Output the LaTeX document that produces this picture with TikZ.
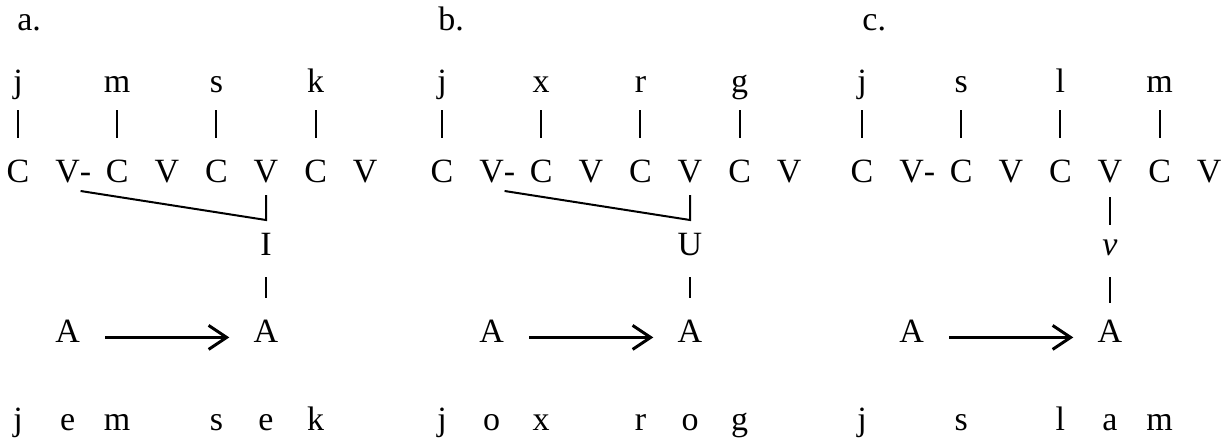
\documentclass[tikz,border=0pt]{standalone}
\usepackage{fontspec}
\setmainfont{Liberation Serif}
\usepackage{tikz}
\usetikzlibrary{arrows.meta}

\begin{document}
\begin{tikzpicture}[
    x=0.5pt, y=-0.5pt,
    seg/.style={inner sep=0pt, text height=11.5pt, text depth=0pt, anchor=base,
                font=\fontsize{17pt}{20pt}\selectfont},
    bar/.style={line width=1pt},
    spread/.style={-{Straight Barb[length=9pt, width=12pt, line width=1.5pt]}, line width=1.5pt}
]
\useasboundingbox (0,0) rectangle (1229,439);

% a. spreading of I
\begin{scope}[shift={(0,0)}]
\node[seg, anchor=base west] (a-lab) at (17,30) {a.};
\foreach \i/\s in {0/j,2/m,4/s,6/k}
  \node[seg] (a-t\i) at (18+49.6*\i,92) {\s};
\foreach \i/\s in {0/C,1/V\rlap{-},2/C,3/V,4/C,5/V,6/C,7/V}
  \node[seg] (a-v\i) at (18+49.6*\i,182) {\s};
\node[seg] (a-el) at (266,255) {I};
\node[seg] (a-al) at (67.6,342) {A};
\node[seg] (a-ar) at (266,342) {A};
\foreach \i/\s in {0/j,1/e,2/m,4/s,5/e,6/k}
  \node[seg] (a-w\i) at (18+49.6*\i,430) {\s};

\foreach \i in {0,2,4,6}
  \draw[bar] ([shift={(0,18)}]a-t\i.base) -- ([shift={(0,-44)}]a-v\i.base);
\draw[bar] ([shift={(13,9)}]a-v1.base) -- ([shift={(0,38)}]a-v5.base) -- ([shift={(0,13)}]a-v5.base);
\draw[bar] ([shift={(0,22)}]a-el.base) -- ([shift={(0,-44)}]a-ar.base);
\draw[spread, shorten <=12.5pt, shorten >=12pt] (a-al.mid east) -- (a-ar.mid west);
\end{scope}

% b. spreading of U
\begin{scope}[shift={(424,0)}]
\node[seg, anchor=base west] (b-lab) at (14,30) {b.};
\foreach \i/\s in {0/j,2/x,4/r,6/g}
  \node[seg] (b-t\i) at (18+49.6*\i,92) {\s};
\foreach \i/\s in {0/C,1/V\rlap{-},2/C,3/V,4/C,5/V,6/C,7/V}
  \node[seg] (b-v\i) at (18+49.6*\i,182) {\s};
\node[seg] (b-el) at (266,255) {U};
\node[seg] (b-al) at (67.6,342) {A};
\node[seg] (b-ar) at (266,342) {A};
\foreach \i/\s in {0/j,1/o,2/x,4/r,5/o,6/g}
  \node[seg] (b-w\i) at (18+49.6*\i,430) {\s};

\foreach \i in {0,2,4,6}
  \draw[bar] ([shift={(0,18)}]b-t\i.base) -- ([shift={(0,-44)}]b-v\i.base);
\draw[bar] ([shift={(13,9)}]b-v1.base) -- ([shift={(0,38)}]b-v5.base) -- ([shift={(0,13)}]b-v5.base);
\draw[bar] ([shift={(0,22)}]b-el.base) -- ([shift={(0,-44)}]b-ar.base);
\draw[spread, shorten <=12.5pt, shorten >=12pt] (b-al.mid east) -- (b-ar.mid west);
\end{scope}

% c. no spreading
\begin{scope}[shift={(844,0)}]
\node[seg, anchor=base west] (c-lab) at (18,30) {c.};
\foreach \i/\s in {0/j,2/s,4/l,6/m}
  \node[seg] (c-t\i) at (18+49.6*\i,92) {\s};
\foreach \i/\s in {0/C,1/V\rlap{-},2/C,3/V,4/C,5/V,6/C,7/V}
  \node[seg] (c-v\i) at (18+49.6*\i,182) {\s};
\node[seg] (c-el) at (266,255) {\textit{v}};
\node[seg] (c-al) at (67.6,342) {A};
\node[seg] (c-ar) at (266,342) {A};
\foreach \i/\s in {0/j,2/s,4/l,5/a,6/m}
  \node[seg] (c-w\i) at (18+49.6*\i,430) {\s};

\foreach \i in {0,2,4,6}
  \draw[bar] ([shift={(0,18)}]c-t\i.base) -- ([shift={(0,-44)}]c-v\i.base);
\draw[bar] ([shift={(0,15)}]c-v5.base) -- ([shift={(0,-30)}]c-el.base);
\draw[bar] ([shift={(0,22)}]c-el.base) -- ([shift={(0,-39)}]c-ar.base);
\draw[spread, shorten <=12.5pt, shorten >=12pt] (c-al.mid east) -- (c-ar.mid west);
\end{scope}
\end{tikzpicture}
\end{document}
